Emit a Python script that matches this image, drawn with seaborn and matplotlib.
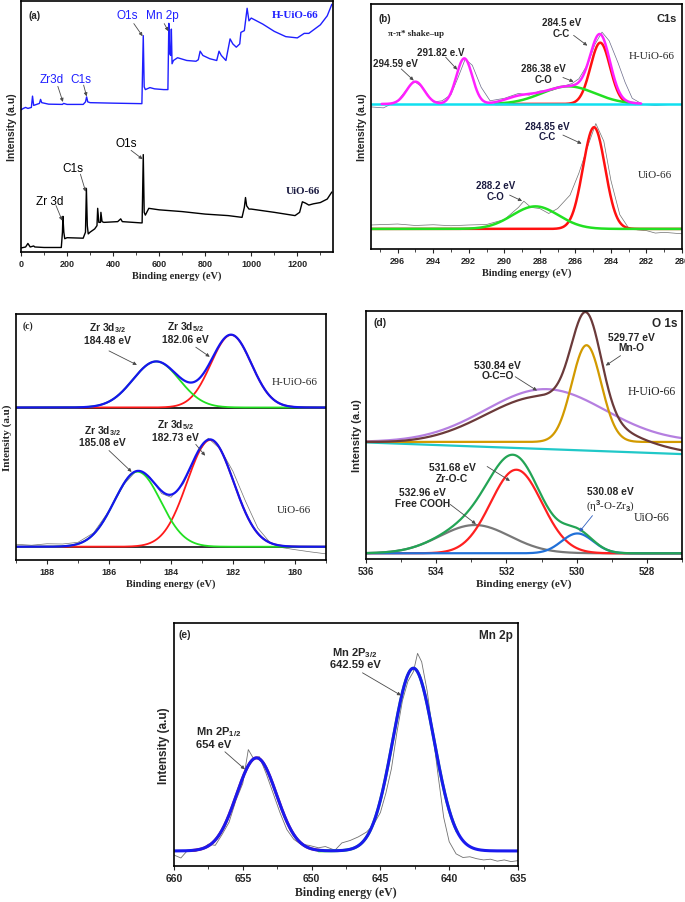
import numpy as np
import pandas as pd
import seaborn as sns
import matplotlib.pyplot as plt
from matplotlib.ticker import MultipleLocator

# ---------------- (a) survey spectra ----------------
survey_ev_h = [0, 10, 20, 30, 45, 50, 55, 80, 85, 90, 120, 180, 185, 200, 270, 280, 285, 290,
               300, 400, 525, 531, 535, 540, 560, 580, 620, 638, 642, 646, 650, 653, 656, 662,
               680, 720, 760, 770, 778, 790, 820, 850, 860, 870, 890, 908, 920, 935, 950, 955,
               970, 982, 990, 1000, 1050, 1100, 1150, 1200, 1230, 1250, 1300, 1330, 1350]
survey_h = [56.6, 57.2, 57.6, 57.2, 57.6, 62.1, 58.4, 59.2, 60.8, 59.5, 58.9, 58.8, 59.2, 58.8,
            58.8, 59.8, 61.8, 59.8, 59.5, 59.3, 59.1, 86.2, 65.8, 64.7, 65.5, 65.0, 64.7, 64.7,
            91.1, 78.9, 78.3, 88.8, 75.0, 76.3, 77.4, 76.3, 76.0, 76.6, 80.0, 78.3, 77.0, 76.3,
            80.0, 78.3, 76.3, 84.9, 82.9, 81.6, 82.9, 87.5, 88.2, 97.1, 92.1, 93.2, 90.8, 87.9,
            85.8, 85.3, 87.1, 87.1, 90.5, 94.1, 98.7]
survey_ev_u = [0, 20, 30, 40, 55, 60, 100, 175, 180, 182, 184, 186, 190, 200, 270, 280, 284, 288,
               292, 300, 320, 330, 333, 338, 345, 347, 352, 360, 420, 433, 440, 520, 526, 531,
               535, 540, 555, 600, 700, 800, 900, 960, 970, 975, 980, 990, 1000, 1100, 1190,
               1210, 1222, 1235, 1250, 1270, 1300, 1330, 1350]
survey_u = [1.6, 2.0, 3.4, 2.0, 2.4, 2.0, 1.8, 1.8, 7.9, 14.2, 11.0, 7.9, 5.3, 5.7, 5.5, 7.9, 25.3,
            10.5, 7.2, 7.9, 9.2, 10.5, 17.4, 11.8, 11.8, 15.8, 12.1, 11.8, 12.1, 13.2, 12.1, 11.6,
            11.6, 38.8, 15.8, 14.7, 17.4, 16.8, 16.1, 15.1, 14.5, 13.8, 17.8, 21.7, 18.4, 17.1,
            17.1, 15.8, 14.5, 15.8, 20.0, 19.5, 18.7, 19.2, 19.7, 21.1, 23.9]

# ---------------- fitted peaks: centre (eV), height, sigma (eV) ----------------
c1s_h_centre = [295.0, 292.25, 289.2, 286.4, 284.6]
c1s_h_height = [9.1, 18.6, 2.2, 7.2, 25.0]
c1s_h_sigma = [0.5, 0.45, 0.8, 1.5, 0.55]
c1s_h_base = 59.2
c1s_u_centre = [284.95, 288.25]
c1s_u_height = [41.5, 9.2]
c1s_u_sigma = [0.62, 1.3]
c1s_u_base = 8.2

zr_h_centre = [182.06, 184.48]
zr_h_height = [29.5, 18.7]
zr_h_sigma = [0.65, 0.75]
zr_h_base = 62.0
zr_u_centre = [182.73, 185.08]
zr_u_height = [43.4, 30.5]
zr_u_sigma = [0.75, 0.75]
zr_u_base = 5.4
zr_divider = 61.7

o1s_h_centre = [530.9, 529.72]
o1s_h_height = [21.3, 39.0]
o1s_h_sigma = [1.7, 0.42]
o1s_h_base = 47.2
o1s_h_line_ev = [536, 527]
o1s_h_line = [47.0, 42.3]
o1s_u_centre = [532.9, 531.72, 529.98]
o1s_u_height = [11.4, 33.7, 8.0]
o1s_u_sigma = [1.0, 0.73, 0.45]
o1s_u_base = 2.3

mn_centre = [654.0, 642.6]
mn_height = [38.3, 75.2]
mn_sigma = [1.45, 1.5]
mn_base = 6.2

# ---------------- raw (grey) traces ----------------
c1s_raw_h_ev = [297.5, 296.8, 296, 295.5, 295.1, 294.6, 294, 293.5, 293, 292.6, 292.2, 291.8, 291.3,
                290.8, 290, 289.2, 288.6, 288, 287.3, 286.8, 286.2, 285.8, 285.3, 284.9, 284.5,
                284.1, 283.6, 283.2, 282.8, 282.2, 281.5, 280.8, 280]
c1s_raw_h = [58.0, 57.6, 60.5, 65.0, 68.6, 66.0, 60.0, 60.5, 63.0, 70.0, 77.5, 75.0, 66.0, 60.5,
             61.5, 63.5, 62.8, 64.5, 64.8, 66.2, 67.5, 69.5, 75.5, 83.5, 88.5, 85.0, 76.0, 68.0,
             61.5, 59.0, 58.6, 58.9, 59.0]
c1s_raw_u_ev = [297.5, 296, 295, 294, 293, 292, 291, 290, 289.2, 288.9, 288.5, 288, 287.5, 287,
                286.3, 285.8, 285.3, 284.85, 284.4, 284, 283.5, 283, 282.5, 282, 281.5, 281, 280]
c1s_raw_u = [9.8, 10.2, 9.6, 9.9, 9.5, 9.8, 10.0, 12.0, 17.0, 19.5, 17.0, 16.5, 14.5, 16.5, 22.0,
             31.0, 42.0, 51.2, 44.0, 28.0, 14.0, 8.5, 7.8, 7.5, 6.5, 6.8, 6.2]
zr_raw_ev = [189, 188.5, 188, 187.5, 187, 186.5, 186, 185.5, 185.1, 184.7, 184.3, 184, 183.6, 183.2,
             182.8, 182.4, 182, 181.6, 181.2, 180.8, 180.4, 180, 179.5, 179]
zr_raw = [6.4, 6.0, 6.6, 6.5, 7.2, 11.0, 20.0, 31.0, 36.5, 34.0, 27.0, 25.5, 31.0, 42.0, 49.5, 45.0,
          36.0, 24.0, 13.0, 7.0, 5.0, 4.2, 3.3, 2.5]
mn_raw_ev = [660, 659.5, 659, 658.5, 658, 657.5, 657, 656.5, 656, 655.5, 655, 654.6, 654.2, 653.8,
             653.3, 652.8, 652.3, 651.8, 651.3, 650.8, 650.2, 649.5, 649, 648.3, 647.8, 647.2,
             646.6, 646, 645.5, 645, 644.6, 644.2, 643.8, 643.4, 643, 642.6, 642.3, 642, 641.6,
             641.2, 640.8, 640.4, 640, 639.5, 639, 638.5, 638, 637.5, 637, 636.5, 636, 635.5, 635]
mn_raw = [4.5, 3.3, 6.5, 6.0, 6.8, 9.0, 8.5, 13.0, 18.0, 27.0, 34.0, 47.9, 44.0, 45.0, 38.0, 30.0,
          22.0, 15.0, 11.0, 9.0, 8.5, 7.5, 8.0, 6.5, 9.5, 10.5, 12.0, 14.0, 17.0, 22.0, 30.0, 40.0,
          55.0, 68.0, 76.0, 80.0, 87.5, 84.0, 72.0, 55.0, 37.0, 20.0, 10.0, 5.0, 3.5, 3.8, 3.0,
          2.5, 2.8, 2.0, 2.5, 1.8, 2.2]

sns.set_theme(style='ticks')
plt.rcParams['font.family'] = ['Liberation Sans', 'DejaVu Sans']
plt.rcParams['mathtext.fontset'] = 'custom'
plt.rcParams['mathtext.rm'] = 'Liberation Sans:bold'
plt.rcParams['mathtext.it'] = 'Liberation Sans:bold'
plt.rcParams['mathtext.bf'] = 'Liberation Sans:bold'

SERIF = ['Liberation Serif', 'DejaVu Serif']
ARROW = dict(arrowstyle='-|>', color='#4a4a4a', lw=0.6, mutation_scale=5, shrinkA=0, shrinkB=0)


def gauss(x, c, h, s):
    return h * np.exp(-(x - c) ** 2 / (2 * s * s))


def line(ax, x, y, color, lw=1.6):
    sns.lineplot(x=np.asarray(x), y=np.asarray(y), ax=ax, color=color, lw=lw,
                 estimator=None, errorbar=None, sort=False)


def new_axes(fig, l, t, r, b):
    return fig.add_axes([l / 685, 1 - b / 903, (r - l) / 685, (b - t) / 903])


def style_axes(ax, xlim, major, minor, tick_size=6.5, lab_size=7.5, ylab_serif=False):
    ax.set_xlim(*xlim)
    ax.set_ylim(0, 100)
    lo, hi = min(xlim), max(xlim)
    ticks = np.arange(np.ceil(lo / major) * major, hi + 0.01, major)
    ax.set_xticks(ticks)
    ax.set_xticklabels([f'{t:g}' for t in ticks], fontweight='bold', fontsize=tick_size)
    ax.xaxis.set_minor_locator(MultipleLocator(minor))
    ax.set_yticks([])
    ax.tick_params(axis='x', which='major', direction='out', length=3, width=0.8, pad=2)
    ax.tick_params(axis='x', which='minor', direction='out', length=1.8, width=0.6)
    for sp in ax.spines.values():
        sp.set_linewidth(1.2)
        sp.set_color('black')
    ax.set_xlabel('Binding energy (eV)', family=SERIF, fontweight='bold', fontsize=lab_size, labelpad=2)
    if ylab_serif:
        ax.set_ylabel('Intensity (a.u)', family=SERIF, fontweight='bold', fontsize=lab_size + 0.5, labelpad=3)
    else:
        ax.set_ylabel('Intensity (a.u)', fontweight='bold', fontsize=lab_size, labelpad=3)


def note(ax, x, y, s, tip=None, start=None, size=7, **kw):
    ax.text(x, y, s, fontsize=size, fontweight='bold', ha='center', va='center', linespacing=1.1, **kw)
    if tip is not None:
        ax.annotate('', xy=tip, xytext=start, arrowprops=ARROW)


fig = plt.figure(figsize=(6.85, 9.03), dpi=100)

# ---------------- (a) survey ----------------
ax = new_axes(fig, 21, 2, 333, 253)
line(ax, survey_ev_u, survey_u, 'black', 1.0)
line(ax, survey_ev_h, survey_h, '#1f1fff', 1.0)
style_axes(ax, (0, 1355), 200, 100, lab_size=7.5)
ax.text(0.025, 0.965, '(a)', transform=ax.transAxes, fontsize=7, fontweight='bold', va='top')
ax.text(1190, 94.5, 'H-UiO-66', family=SERIF, fontsize=8, fontweight='bold', color='#1f1fff', ha='center', va='center')
ax.text(1225, 24.5, 'UiO-66', family=SERIF, fontsize=8, fontweight='bold', color='#1a1a40', ha='center', va='center')
blue = dict(fontsize=8.5, color='#1f1fff', ha='center', va='center')
ax.text(462, 94.5, 'O1s', **blue)
ax.annotate('', xy=(528, 86), xytext=(490, 91), arrowprops=ARROW)
ax.text(612, 94.5, 'Mn 2p', **blue)
ax.annotate('', xy=(640, 88), xytext=(622, 91), arrowprops=ARROW)
ax.text(135, 69, 'Zr3d', **blue)
ax.annotate('', xy=(182, 59.8), xytext=(160, 66), arrowprops=ARROW)
ax.text(262, 69, 'C1s', **blue)
ax.annotate('', xy=(285, 62), xytext=(272, 66.5), arrowprops=ARROW)
blk = dict(fontsize=8.5, color='black', ha='center', va='center')
ax.text(455, 43.5, 'O1s', **blk)
ax.annotate('', xy=(528, 37), xytext=(478, 40.5), arrowprops=ARROW)
ax.text(225, 33.5, 'C1s', **blk)
ax.annotate('', xy=(281, 24), xytext=(258, 31), arrowprops=ARROW)
ax.text(125, 20.5, 'Zr 3d', **blk)
ax.annotate('', xy=(179, 12.5), xytext=(152, 18.5), arrowprops=ARROW)

# ---------------- (b) C1s ----------------
ax = new_axes(fig, 371, 5, 682, 250)
x = np.linspace(297.5, 280, 700)
comps = [gauss(x, c, h, s) for c, h, s in zip(c1s_u_centre, c1s_u_height, c1s_u_sigma)]
line(ax, c1s_raw_u_ev, c1s_raw_u, '#707070', 0.5)
line(ax, x, c1s_u_base + comps[0], '#ff1010', 1.8)
line(ax, x, c1s_u_base + comps[1], '#22e022', 1.8)
comps = [gauss(x, c, h, s) for c, h, s in zip(c1s_h_centre, c1s_h_height, c1s_h_sigma)]
line(ax, c1s_raw_h_ev, c1s_raw_h, '#6a6a8a', 0.5)
m = (x < 290.5) & (x > 282.6)
line(ax, x[m], c1s_h_base + comps[4][m], '#ff1010', 1.8)
line(ax, x[m], c1s_h_base + comps[3][m], '#22e022', 1.8)
line(ax, x, np.full_like(x, c1s_h_base), '#10e0f0', 1.8)
m = (x < 296.9) & (x > 282.3)
line(ax, x[m], c1s_h_base + sum(comps)[m], '#ff20ff', 1.8)
style_axes(ax, (297.5, 280), 2, 1)
ax.text(0.025, 0.965, '(b)', transform=ax.transAxes, fontsize=7, fontweight='bold', va='top')
ax.text(0.985, 0.965, 'C1s', transform=ax.transAxes, fontsize=8, fontweight='bold', va='top', ha='right')
ax.text(294.95, 88, r'π-π* shake–up', family=SERIF, fontsize=6.5, fontweight='bold', ha='center', va='center')
note(ax, 296.15, 75.9, '294.59 eV', tip=(295.1, 68.8), start=(295.8, 73.5))
note(ax, 293.6, 80.5, '291.82 e.V', tip=(292.65, 73.2), start=(293.3, 78.3))
note(ax, 286.8, 90.5, '284.5 eV\nC-C', tip=(285.33, 83), start=(286.1, 87.2))
note(ax, 287.8, 71.5, '286.38 eV\nC-O', tip=(286.1, 68.3), start=(286.7, 70))
note(ax, 287.6, 48.2, '284.85 eV\nC-C', tip=(285.65, 43), start=(286.7, 46.5), color='#1a1a40')
note(ax, 290.5, 24, '288.2 eV\nC-O', tip=(289.0, 19.6), start=(289.7, 22), color='#1a1a40')
ax.text(281.7, 79, 'H-UiO-66', family=SERIF, fontsize=8, ha='center', va='center')
ax.text(281.5, 30.6, 'UiO-66', family=SERIF, fontsize=8, ha='center', va='center')

# ---------------- (c) Zr 3d ----------------
ax = new_axes(fig, 16, 315, 326, 561)
x = np.linspace(189, 179, 600)
line(ax, zr_raw_ev, zr_raw, '#707070', 0.5)
line(ax, x, np.full_like(x, zr_u_base), '#111111', 1.2)
cu = [gauss(x, c, h, s) for c, h, s in zip(zr_u_centre, zr_u_height, zr_u_sigma)]
line(ax, x, zr_u_base + cu[0], '#ff1a1a', 1.3)
line(ax, x, zr_u_base + cu[1], '#22e022', 1.3)
line(ax, x, zr_u_base + cu[0] + cu[1], '#1515ee', 1.6)
ax.axhline(zr_divider, color='black', lw=1.2)
ch = [gauss(x, c, h, s) for c, h, s in zip(zr_h_centre, zr_h_height, zr_h_sigma)]
line(ax, x, zr_h_base + ch[0], '#ff1a1a', 1.3)
line(ax, x, zr_h_base + ch[1], '#22e022', 1.3)
line(ax, x, zr_h_base + ch[0] + ch[1], '#1515ee', 1.6)
style_axes(ax, (189, 179), 2, 1, ylab_serif=True)
ax.text(0.02, 0.975, '(c)', transform=ax.transAxes, family=SERIF, fontsize=7, fontweight='bold', va='top')
note(ax, 186.05, 92.5, 'Zr 3d$_{3/2}$\n184.48 eV', tip=(185.1, 79.3), start=(186.0, 85), size=7.4)
note(ax, 183.55, 92.8, 'Zr 3d$_{5/2}$\n182.06 eV', tip=(182.75, 82.6), start=(183.2, 86.5), size=7.4)
note(ax, 186.2, 50.8, 'Zr 3d$_{3/2}$\n185.08 eV', tip=(185.27, 35.8), start=(186.0, 44.5), size=7.4)
note(ax, 183.85, 53, 'Zr 3d$_{5/2}$\n182.73 eV', tip=(182.9, 42.4), start=(183.2, 47), size=7.4)
ax.text(180.0, 72.5, 'H-UiO-66', family=SERIF, fontsize=8, ha='center', va='center')
ax.text(180.05, 20.6, 'UiO-66', family=SERIF, fontsize=8, ha='center', va='center')

# ---------------- (d) O 1s ----------------
ax = new_axes(fig, 366, 312, 682, 560)
x = np.linspace(536, 527, 600)
cu = [gauss(x, c, h, s) for c, h, s in zip(o1s_u_centre, o1s_u_height, o1s_u_sigma)]
line(ax, x, o1s_u_base + cu[0], '#787878', 1.6)
line(ax, x, o1s_u_base + cu[1], '#ff2020', 1.6)
line(ax, x, o1s_u_base + cu[2], '#2070d8', 1.6)
line(ax, x, o1s_u_base + sum(cu), '#23a455', 1.6)
base = np.interp(x, o1s_h_line_ev[::-1], o1s_h_line[::-1])
ch = [gauss(x, c, h, s) for c, h, s in zip(o1s_h_centre, o1s_h_height, o1s_h_sigma)]
line(ax, x, base, '#20c8c8', 1.6)
line(ax, x, o1s_h_base + ch[0], '#b57fe0', 1.6)
line(ax, x, o1s_h_base + ch[1], '#d29a00', 1.6)
line(ax, x, base + ch[0] + ch[1], '#6b3a3a', 1.6)
style_axes(ax, (536, 527), 2, 1, tick_size=7, lab_size=8)
ax.text(0.025, 0.975, '(d)', transform=ax.transAxes, fontsize=7.5, fontweight='bold', va='top')
ax.text(0.985, 0.975, 'O 1s', transform=ax.transAxes, fontsize=8.5, fontweight='bold', va='top', ha='right')
note(ax, 528.45, 87.5, '529.77 eV\nMn-O', tip=(529.17, 78), start=(528.75, 82), size=7.4)
note(ax, 532.25, 76.2, '530.84 eV\nO-C=O', tip=(531.13, 67.9), start=(531.75, 73.5), size=7.4)
note(ax, 533.55, 34.8, '531.68 eV\nZr-O-C', tip=(531.9, 31.5), start=(532.55, 37.3), size=7.4)
note(ax, 534.4, 24.8, '532.96 eV\nFree COOH', tip=(532.87, 14.1), start=(533.6, 22), size=7.4)
note(ax, 529.05, 27.5, '530.08 eV', size=7.4)
ax.text(529.05, 21.6, r'(η$^3$-O-Zr$_3$)', family=SERIF, fontsize=7.8, ha='center', va='center')
ax.annotate('', xy=(529.92, 11.0), xytext=(529.55, 17.5),
            arrowprops=dict(ARROW, color='#3060c0'))
ax.text(527.85, 67.8, 'H-UiO-66', family=SERIF, fontsize=8.5, ha='center', va='center')
ax.text(527.85, 16.8, 'UiO-66', family=SERIF, fontsize=8.5, ha='center', va='center')

# ---------------- (e) Mn 2p ----------------
ax = new_axes(fig, 174, 624, 518, 867)
x = np.linspace(660, 635, 800)
c = [gauss(x, cc, h, s) for cc, h, s in zip(mn_centre, mn_height, mn_sigma)]
line(ax, mn_raw_ev, mn_raw, '#707070', 0.6)
m = (x < 658.7) & (x > 649.3)
line(ax, x[m], mn_base + c[0][m], '#ff1a1a', 2.0)
m = (x < 649.5) & (x > 639.4)
line(ax, x[m], mn_base + c[1][m], '#20f020', 2.0)
line(ax, x, mn_base + c[0] + c[1], '#1a1aee', 2.2)
style_axes(ax, (660, 635), 5, 2.5, tick_size=7.5, lab_size=8.5)
ax.text(0.012, 0.975, '(e)', transform=ax.transAxes, fontsize=7.5, fontweight='bold', va='top')
ax.text(0.985, 0.975, 'Mn 2p', transform=ax.transAxes, fontsize=8.5, fontweight='bold', va='top', ha='right')
note(ax, 646.85, 86, 'Mn 2P$_{3/2}$\n642.59 eV', tip=(643.5, 70.2), start=(646.3, 79.5), size=8)
ax.text(658.4, 53.2, 'Mn 2P$_{1/2}$\n654 eV', fontsize=8, fontweight='bold', ha='left', va='center', linespacing=1.15)
ax.annotate('', xy=(654.85, 39.8), xytext=(656.3, 47), arrowprops=ARROW)

fig.savefig('out.png', dpi=100)
